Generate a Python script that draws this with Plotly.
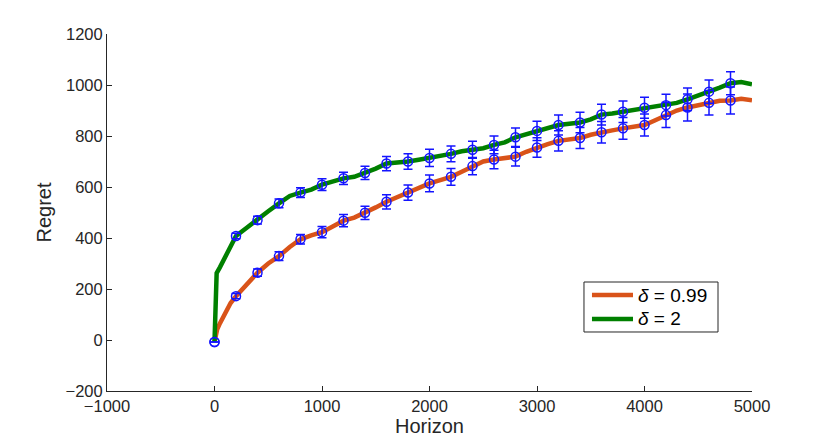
import plotly.graph_objects as go

# ---- data ----
green_x = [0, 10, 20, 50, 100, 150, 200, 300, 400, 500, 600, 700, 800, 900, 1000,
           1100, 1200, 1300, 1400, 1500, 1600, 1700, 1800, 1900, 2000, 2100, 2200,
           2300, 2400, 2500, 2600, 2700, 2800, 2900, 3000, 3100, 3200, 3300, 3400,
           3500, 3600, 3700, 3800, 3900, 4000, 4100, 4200, 4300, 4400, 4500, 4600,
           4700, 4800, 4900, 5000]
green_y = [-8, 150, 262, 285, 327, 375, 408, 440, 470, 505, 536, 565, 578, 590, 609,
           620, 634, 640, 655, 672, 692, 695, 700, 707, 714, 722, 730,
           740, 746, 752, 765, 775, 795, 808, 820, 832, 843, 848, 853,
           865, 884, 888, 895, 900, 911, 915, 921, 930, 944, 958, 974,
           990, 1007, 1012, 1003]

orange_x = [0, 10, 25, 50, 100, 150, 200, 300, 400, 500, 600, 700, 800, 900, 1000,
            1100, 1200, 1300, 1400, 1500, 1600, 1700, 1800, 1900, 2000, 2100, 2200,
            2300, 2400, 2500, 2600, 2700, 2800, 2900, 3000, 3100, 3200, 3300, 3400,
            3500, 3600, 3700, 3800, 3900, 4000, 4100, 4200, 4300, 4400, 4500, 4600,
            4700, 4800, 4900, 5000]
orange_y = [-8, 20, 42, 65, 102, 145, 172, 220, 264, 300, 329, 365, 395, 410, 423,
            445, 468, 480, 499, 520, 542, 560, 578, 598, 614, 627, 640,
            660, 682, 700, 708, 714, 719, 738, 755, 768, 781, 788, 792,
            805, 815, 822, 830, 837, 843, 862, 882, 900, 912, 922, 930,
            938, 939, 946, 940]

err_x = [0, 200, 400, 600, 800, 1000, 1200, 1400, 1600, 1800, 2000, 2200, 2400,
         2600, 2800, 3000, 3200, 3400, 3600, 3800, 4000, 4200, 4400, 4600, 4800]
green_err_y = [-8, 408, 470, 536, 578, 609, 634, 655, 692, 700, 714, 730, 746,
               765, 795, 820, 843, 853, 884, 895, 911, 921, 944, 974, 1007]
green_err = [0, 11, 15, 17, 19, 23, 24, 26, 28, 30, 34, 31, 33,
             35, 36, 38, 39, 40, 41, 42, 41, 43, 44, 46, 45]
orange_err_y = [-8, 172, 264, 329, 395, 423, 468, 499, 542, 578, 614, 640, 682,
                708, 719, 755, 781, 792, 815, 830, 843, 882, 912, 930, 939]
orange_err = [0, 10, 14, 17, 19, 22, 24, 26, 28, 30, 33, 33, 34,
              36, 37, 38, 40, 41, 42, 43, 43, 49, 53, 48, 53]

x_ticks = [-1000, 0, 1000, 2000, 3000, 4000, 5000]
y_ticks = [-200, 0, 200, 400, 600, 800, 1000, 1200]

legend_labels = ["<i>δ</i> = 0.99", "<i>δ</i> = 2"]

ORANGE = "#D95319"
GREEN = "#008000"
BLUE = "rgb(20,20,255)"
AX = "#262626"
FONT = "Liberation Sans, Arial"

fig = go.Figure()
fig.add_trace(go.Scatter(x=orange_x, y=orange_y, mode="lines",
                         line=dict(color=ORANGE, width=4.5),
                         name=legend_labels[0], showlegend=False))
fig.add_trace(go.Scatter(x=green_x, y=green_y, mode="lines",
                         line=dict(color=GREEN, width=4.5),
                         name=legend_labels[1], showlegend=False))
for ys, es in [(orange_err_y, orange_err), (green_err_y, green_err)]:
    fig.add_trace(go.Scatter(
        x=err_x, y=ys, mode="markers", showlegend=False,
        marker=dict(symbol="circle-open", size=9, color=BLUE,
                    line=dict(width=1.5, color=BLUE)),
        error_y=dict(type="data", array=es, visible=True, color=BLUE,
                     thickness=1.5, width=4.5)))

# legend box drawn in paper coordinates
fig.add_shape(type="rect", xref="paper", yref="paper",
              x0=0.7395, x1=0.9473, y0=0.1653, y1=0.3053,
              line=dict(color=AX, width=1), fillcolor="white", layer="above")
for row_y, col, lab in [(0.2689, ORANGE, legend_labels[0]), (0.2017, GREEN, legend_labels[1])]:
    fig.add_shape(type="line", xref="paper", yref="paper",
                  x0=0.7519, x1=0.8155, y0=row_y, y1=row_y,
                  line=dict(color=col, width=4.5), layer="above")
    fig.add_annotation(xref="paper", yref="paper", x=0.8202, y=row_y,
                       xanchor="left", yanchor="middle", showarrow=False,
                       text=lab, font=dict(family=FONT, size=19, color="black"))

axis_common = dict(showgrid=False, zeroline=False, showline=True, linecolor=AX,
                   linewidth=1, ticks="inside", ticklen=5, tickcolor=AX,
                   tickwidth=1, mirror=False,
                   tickfont=dict(family=FONT, size=16.5, color=AX))

fig.update_layout(
    width=822, height=432,
    margin=dict(l=99, r=78, t=26, b=49, autoexpand=False),
    paper_bgcolor="white", plot_bgcolor="white",
    xaxis=dict(range=[-1000, 5000], tickvals=x_ticks,
               title=dict(text="Horizon", standoff=4,
                          font=dict(family=FONT, size=20, color=AX)),
               **axis_common),
    yaxis=dict(range=[-200, 1200], tickvals=y_ticks,
               title=dict(text="Regret", standoff=8,
                          font=dict(family=FONT, size=20, color=AX)),
               **axis_common),
    showlegend=False,
)

fig.write_html("out.html")
